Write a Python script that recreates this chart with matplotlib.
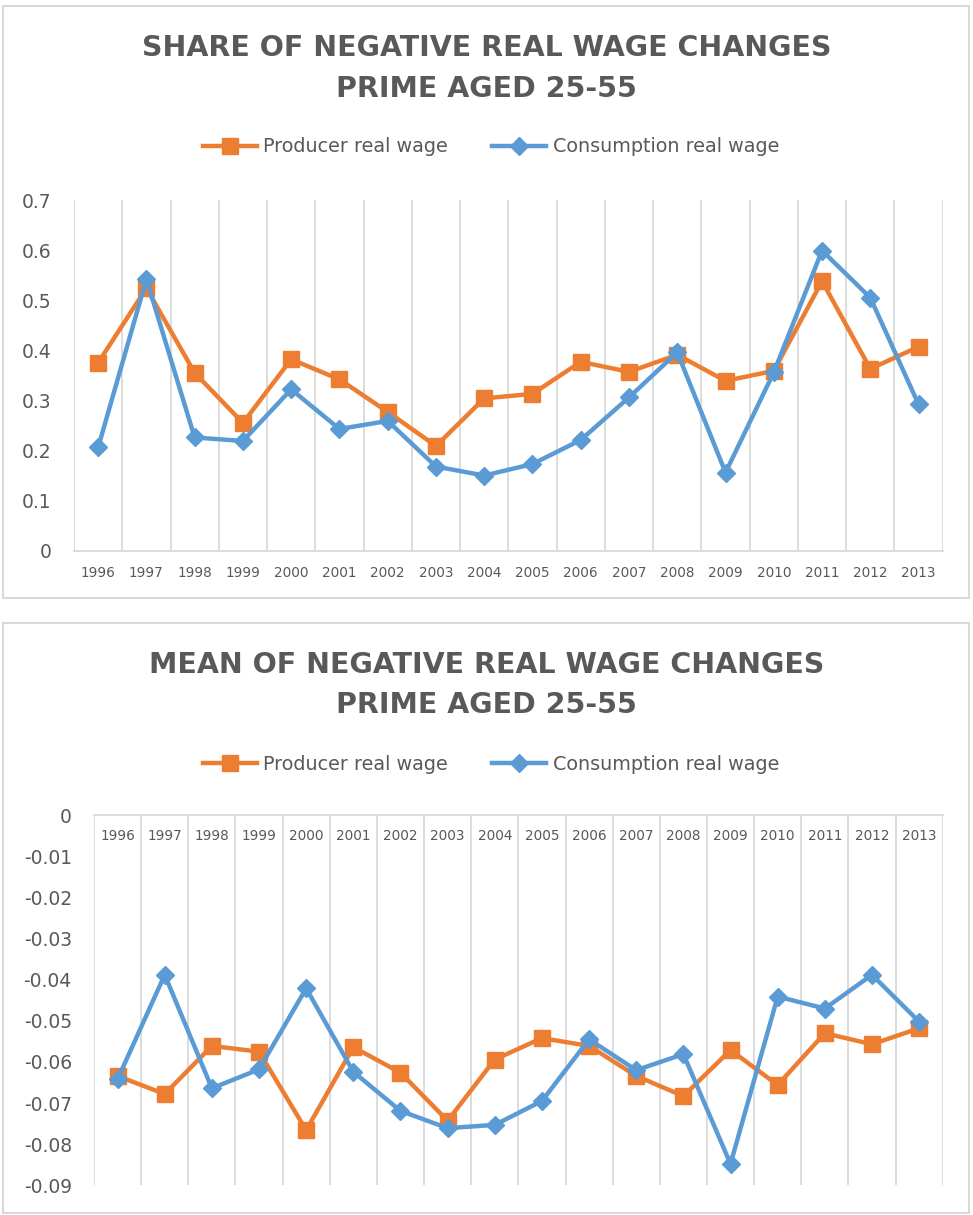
import numpy as np
import matplotlib
matplotlib.use("Agg")
import matplotlib.pyplot as plt
from matplotlib.patches import Rectangle

# --- DATA ---
years = [str(y) for y in range(1996, 2014)]

share_producer = [0.375, 0.524, 0.355, 0.255, 0.382, 0.342, 0.277, 0.209, 0.304,
                  0.313, 0.377, 0.357, 0.391, 0.339, 0.359, 0.538, 0.363, 0.407]
share_consumption = [0.206, 0.542, 0.226, 0.219, 0.322, 0.243, 0.259, 0.168, 0.150,
                     0.173, 0.221, 0.306, 0.396, 0.156, 0.356, 0.599, 0.505, 0.292]

mean_producer = [-0.0634, -0.0678, -0.0561, -0.0575, -0.0766, -0.0564, -0.0626, -0.0743, -0.0594,
                 -0.0542, -0.0561, -0.0634, -0.0683, -0.0571, -0.0656, -0.0530, -0.0557, -0.0518]
mean_consumption = [-0.0642, -0.0388, -0.0664, -0.0618, -0.0421, -0.0624, -0.0719, -0.0761, -0.0753,
                    -0.0695, -0.0545, -0.0620, -0.0581, -0.0848, -0.0441, -0.0470, -0.0388, -0.0502]

share_ticks = [0, 0.1, 0.2, 0.3, 0.4, 0.5, 0.6, 0.7]
share_ticklabels = ["0", "0.1", "0.2", "0.3", "0.4", "0.5", "0.6", "0.7"]
mean_ticks = [0, -0.01, -0.02, -0.03, -0.04, -0.05, -0.06, -0.07, -0.08, -0.09]
mean_ticklabels = ["0", "-0.01", "-0.02", "-0.03", "-0.04", "-0.05", "-0.06", "-0.07", "-0.08", "-0.09"]

# --- STYLE ---
ORANGE = "#ED7D31"
BLUE = "#5B9BD5"
GREY = "#595959"
GRID = "#D9D9D9"

W, H = 973, 1215
fig = plt.figure(figsize=(W / 100, H / 100), dpi=100)
plt.rcParams['font.family'] = ['DejaVu Sans']


def fx(px):
    return px / W


def fy(py):
    return 1 - py / H


def draw_chart(ax, prod, cons, ticks, ticklabels, labels_top):
    x = np.arange(len(years))
    ax.plot(x, prod, color=ORANGE, lw=3.2, marker="s", ms=11.5, label="Producer real wage",
            solid_joinstyle="round", zorder=3)
    ax.plot(x, cons, color=BLUE, lw=3.2, marker="D", ms=9.5, label="Consumption real wage",
            solid_joinstyle="round", zorder=4)
    ax.set_xlim(-0.5, len(years) - 0.5)
    # vertical gridlines on category boundaries
    for b in np.arange(-0.5, len(years), 1.0):
        ax.axvline(b, color=GRID, lw=1.3, zorder=1)
    for s in ax.spines.values():
        s.set_visible(False)
    ax.set_yticks(ticks)
    ax.set_yticklabels(ticklabels)
    ax.tick_params(axis="y", length=0, pad=16, labelsize=13.5, labelcolor=GREY)
    ax.set_xticks(x)
    ax.set_xticklabels(years)
    if labels_top:
        ax.spines["top"].set_visible(True)
        ax.spines["top"].set_color(GRID)
        ax.spines["top"].set_linewidth(1.3)
        ax.tick_params(axis="x", length=0, labeltop=True, labelbottom=False, pad=-20,
                       labelsize=9.8, labelcolor=GREY)
    else:
        ax.spines["bottom"].set_visible(True)
        ax.spines["bottom"].set_color(GRID)
        ax.spines["bottom"].set_linewidth(1.3)
        ax.tick_params(axis="x", length=0, pad=11, labelsize=9.8, labelcolor=GREY)


def chart_frame(top, bottom):
    fig.patches.append(Rectangle((fx(3), fy(bottom)), fx(966), (bottom - top) / H,
                                 transform=fig.transFigure, fill=False, ec=GRID, lw=1.5))


def titles(y1, y2, line1, line2, ly, ax):
    for y, t in [(y1, line1), (y2, line2)]:
        fig.text(0.5, fy(y), t, ha="center", va="center", fontsize=20.5, fontweight="bold",
                 color=GREY)
    h, l = ax.get_legend_handles_labels()
    fig.legend(h, l, loc="center", bbox_to_anchor=(fx(491), fy(ly)), ncol=2, frameon=False,
               fontsize=13.8, labelcolor=GREY, handlelength=2.8, handletextpad=0.35,
               columnspacing=2.3, markerscale=0.95)


# top chart
chart_frame(6, 598)
ax1 = fig.add_axes([fx(74), fy(550.7), fx(942.7 - 74), (550.7 - 200) / H])
draw_chart(ax1, share_producer, share_consumption, share_ticks, share_ticklabels, False)
ax1.set_ylim(0, 0.7)
titles(48, 89, "SHARE OF NEGATIVE REAL WAGE CHANGES", "PRIME AGED 25-55", 147, ax1)

# bottom chart
chart_frame(623, 1213)
ax2 = fig.add_axes([fx(94), fy(1185.3), fx(942.7 - 94), (1185.3 - 815.3) / H])
draw_chart(ax2, mean_producer, mean_consumption, mean_ticks, mean_ticklabels, True)
ax2.set_ylim(-0.09, 0)
titles(665, 705, "MEAN OF NEGATIVE REAL WAGE CHANGES", "PRIME AGED 25-55", 764, ax2)

fig.savefig("out.png", dpi=100, facecolor="white")
